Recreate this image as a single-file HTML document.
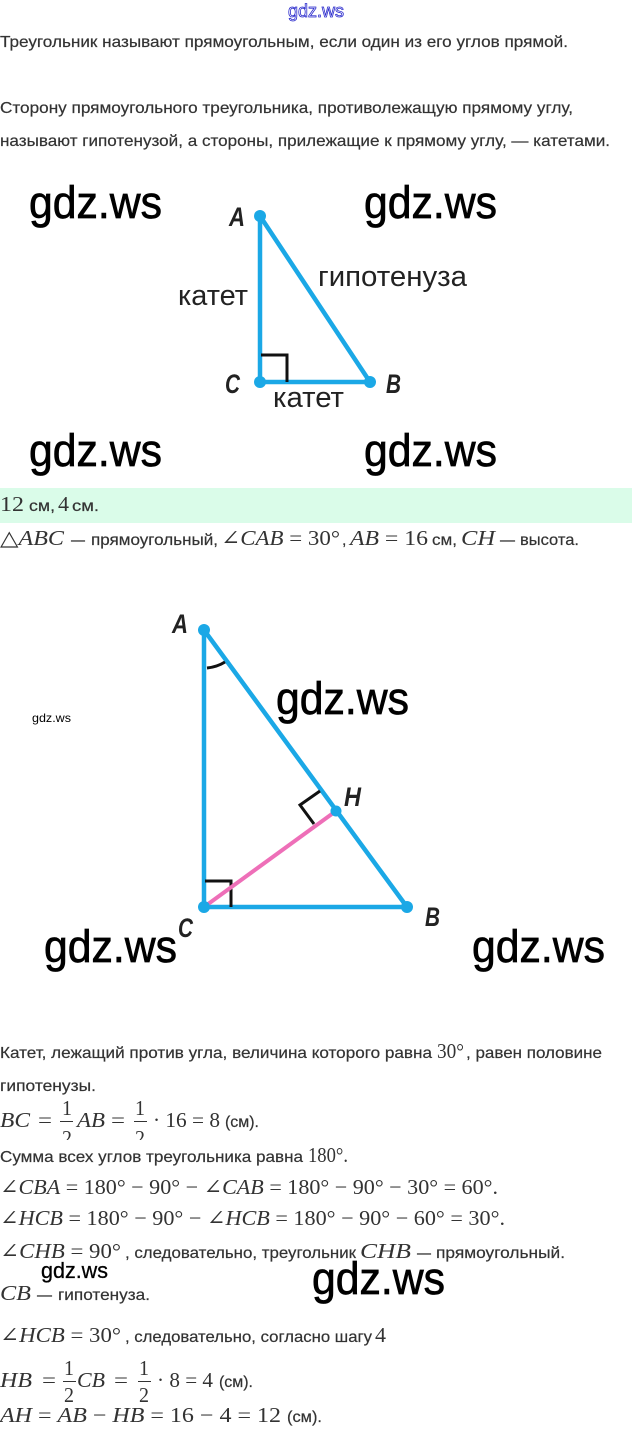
<!DOCTYPE html>
<html lang="ru">
<head>
<meta charset="utf-8">
<title>Прямоугольный треугольник</title>
<style>
html,body{margin:0;padding:0;background:#fff;}
svg{display:block;}
.t{font-family:"Liberation Sans",sans-serif;font-size:16px;fill:#333;stroke:#333;stroke-width:.2px;}
.m{font-family:"Liberation Serif","DejaVu Serif",serif;font-size:21px;fill:#333;}
.i{font-style:italic;}
.w{font-family:"Liberation Sans",sans-serif;font-size:45px;fill:#000;stroke:#000;stroke-width:.7px;}
.l{font-family:"Liberation Sans",sans-serif;font-size:29px;fill:#222;}
.p{font-family:"Liberation Sans",sans-serif;font-size:27px;font-style:italic;font-weight:bold;fill:#222;}
</style>
</head>
<body>
<svg width="632" height="1432" viewBox="0 0 632 1432" xmlns="http://www.w3.org/2000/svg">
<rect width="632" height="1432" fill="#fff"/>
<text x="288" y="17" font-family="Liberation Sans, sans-serif" font-size="18" fill="#fff" stroke="#2a2acc" stroke-width="0.8" textLength="56" lengthAdjust="spacingAndGlyphs">gdz.ws</text>

<text class="t" x="0" y="47" textLength="568" lengthAdjust="spacingAndGlyphs">Треугольник называют прямоугольным, если один из его углов прямой.</text>
<text class="t" x="0" y="113" textLength="573" lengthAdjust="spacingAndGlyphs">Сторону прямоугольного треугольника, противолежащую прямому углу,</text>
<text class="t" x="0" y="146" textLength="610" lengthAdjust="spacingAndGlyphs">называют гипотенузой, а стороны, прилежащие к прямому углу, — катетами.</text>

<!-- Triangle 1 -->
<path d="M260 216V382H370Z" fill="none" stroke="#1ba8e6" stroke-width="4.5" stroke-linejoin="round"/>
<path d="M261 355H287V382" fill="none" stroke="#111" stroke-width="3"/>
<g fill="#1ba8e6"><circle cx="260" cy="216" r="6"/><circle cx="260" cy="382" r="6"/><circle cx="370" cy="382" r="6"/></g>
<text class="p" x="229" y="226" textLength="16" lengthAdjust="spacingAndGlyphs">A</text>
<text class="p" x="225" y="393" textLength="15" lengthAdjust="spacingAndGlyphs">C</text>
<text class="p" x="386" y="393" textLength="15" lengthAdjust="spacingAndGlyphs">B</text>
<text class="l" x="178" y="305" textLength="70" lengthAdjust="spacingAndGlyphs">катет</text>
<text class="l" x="318" y="286" textLength="149" lengthAdjust="spacingAndGlyphs">гипотенуза</text>
<text class="l" x="273" y="407" textLength="71" lengthAdjust="spacingAndGlyphs">катет</text>

<!-- Watermarks -->
<text class="w" x="29" y="218" textLength="133" lengthAdjust="spacingAndGlyphs">gdz.ws</text>
<text class="w" x="364" y="218" textLength="133" lengthAdjust="spacingAndGlyphs">gdz.ws</text>
<text class="w" x="29" y="466" textLength="133" lengthAdjust="spacingAndGlyphs">gdz.ws</text>
<text class="w" x="364" y="466" textLength="133" lengthAdjust="spacingAndGlyphs">gdz.ws</text>

<!-- Answer band -->
<rect x="0" y="488" width="632" height="35" fill="#dafce9"/>
<text class="m" x="0" y="511" textLength="24" lengthAdjust="spacingAndGlyphs">12</text>
<text class="t" x="29" y="511" textLength="26" lengthAdjust="spacingAndGlyphs">см,</text>
<text class="m" x="58" y="511" textLength="11" lengthAdjust="spacingAndGlyphs">4</text>
<text class="t" x="72" y="511" textLength="27" lengthAdjust="spacingAndGlyphs">см.</text>

<text class="m" x="0" y="545" textLength="64" lengthAdjust="spacingAndGlyphs">△<tspan class="i">ABC</tspan></text>
<text class="t" x="71" y="545" textLength="14" lengthAdjust="spacingAndGlyphs">—</text>
<text class="t" x="91" y="545" textLength="127" lengthAdjust="spacingAndGlyphs">прямоугольный,</text>
<text class="m" x="221" y="545" textLength="119" lengthAdjust="spacingAndGlyphs">∠<tspan class="i">CAB</tspan> = 30°</text>
<text class="t" x="342" y="545">,</text>
<text class="m" x="350" y="545" textLength="78" lengthAdjust="spacingAndGlyphs"><tspan class="i">AB</tspan> = 16</text>
<text class="t" x="432" y="545" textLength="25" lengthAdjust="spacingAndGlyphs">см,</text>
<text class="m i" x="461" y="545" textLength="34" lengthAdjust="spacingAndGlyphs">CH</text>
<text class="t" x="500" y="545" textLength="15" lengthAdjust="spacingAndGlyphs">—</text>
<text class="t" x="520" y="545" textLength="59" lengthAdjust="spacingAndGlyphs">высота.</text>

<!-- Triangle 2 -->
<path d="M204 630V907H407Z" fill="none" stroke="#1ba8e6" stroke-width="4.5" stroke-linejoin="round"/>
<path d="M205 881H231V907" fill="none" stroke="#111" stroke-width="3"/>
<path d="M320 791L300 805L314 824" fill="none" stroke="#111" stroke-width="3"/>
<path d="M207 668Q217 667 225 662" fill="none" stroke="#111" stroke-width="3"/>
<path d="M204 907L336 811" fill="none" stroke="#ee6fb8" stroke-width="4"/>
<g fill="#1ba8e6"><circle cx="204" cy="630" r="6"/><circle cx="204" cy="907" r="6"/><circle cx="407" cy="907" r="6"/><circle cx="336" cy="811" r="5.5"/></g>
<text class="p" x="172" y="633" textLength="16" lengthAdjust="spacingAndGlyphs">A</text>
<text class="p" x="344" y="806" textLength="17" lengthAdjust="spacingAndGlyphs">H</text>
<text class="p" x="425" y="926" textLength="15" lengthAdjust="spacingAndGlyphs">B</text>
<text class="p" x="178" y="937" textLength="15" lengthAdjust="spacingAndGlyphs">C</text>

<text class="w" x="276" y="714" textLength="133" lengthAdjust="spacingAndGlyphs">gdz.ws</text>
<text x="32" y="722" font-family="Liberation Sans, sans-serif" font-size="12" fill="#000" textLength="39" lengthAdjust="spacingAndGlyphs">gdz.ws</text>
<text class="w" x="44" y="962" textLength="133" lengthAdjust="spacingAndGlyphs">gdz.ws</text>
<text class="w" x="472" y="962" textLength="133" lengthAdjust="spacingAndGlyphs">gdz.ws</text>

<!-- Solution -->
<text class="t" x="0" y="1058" textLength="432" lengthAdjust="spacingAndGlyphs">Катет, лежащий против угла, величина которого равна</text>
<text class="m" x="437" y="1058" textLength="27" lengthAdjust="spacingAndGlyphs">30°</text>
<text class="t" x="466" y="1058" textLength="136" lengthAdjust="spacingAndGlyphs">, равен половине</text>
<text class="t" x="0" y="1091" textLength="96" lengthAdjust="spacingAndGlyphs">гипотенузы.</text>

<text class="m i" x="0" y="1127" textLength="30" lengthAdjust="spacingAndGlyphs">BC</text>
<text class="m" x="38" y="1127" textLength="14" lengthAdjust="spacingAndGlyphs">=</text>
<text class="m" x="62" y="1115" textLength="10" lengthAdjust="spacingAndGlyphs">1</text>
<rect x="60" y="1121" width="13" height="1" fill="#333"/>
<text class="m" x="62" y="1145" textLength="10" lengthAdjust="spacingAndGlyphs">2</text>
<text class="m i" x="77" y="1127" textLength="28" lengthAdjust="spacingAndGlyphs">AB</text>
<text class="m" x="111" y="1127" textLength="14" lengthAdjust="spacingAndGlyphs">=</text>
<text class="m" x="135" y="1115" textLength="10" lengthAdjust="spacingAndGlyphs">1</text>
<rect x="134" y="1121" width="13" height="1" fill="#333"/>
<text class="m" x="135" y="1145" textLength="10" lengthAdjust="spacingAndGlyphs">2</text>
<rect x="55" y="1140" width="100" height="8" fill="#fff"/>
<text class="m" x="153" y="1127" textLength="67" lengthAdjust="spacingAndGlyphs">· 16 = 8</text>
<text class="t" x="225" y="1127" textLength="34" lengthAdjust="spacingAndGlyphs">(см).</text>

<text class="t" x="0" y="1162" textLength="303" lengthAdjust="spacingAndGlyphs">Сумма всех углов треугольника равна</text>
<text class="m" x="308" y="1162" textLength="40" lengthAdjust="spacingAndGlyphs">180°.</text>

<text class="m" x="0" y="1194" textLength="498" lengthAdjust="spacingAndGlyphs">∠<tspan class="i">CBA</tspan> = 180° − 90° − ∠<tspan class="i">CAB</tspan> = 180° − 90° − 30° = 60°.</text>
<text class="m" x="0" y="1225" textLength="505" lengthAdjust="spacingAndGlyphs">∠<tspan class="i">HCB</tspan> = 180° − 90° − ∠<tspan class="i">HCB</tspan> = 180° − 90° − 60° = 30°.</text>

<text class="m" x="0" y="1258" textLength="121" lengthAdjust="spacingAndGlyphs">∠<tspan class="i">CHB</tspan> = 90°</text>
<text class="t" x="125" y="1258" textLength="231" lengthAdjust="spacingAndGlyphs">, следовательно, треугольник</text>
<text class="m i" x="360" y="1258" textLength="51" lengthAdjust="spacingAndGlyphs">CHB</text>
<text class="t" x="417" y="1258" textLength="14" lengthAdjust="spacingAndGlyphs">—</text>
<text class="t" x="436" y="1258" textLength="129" lengthAdjust="spacingAndGlyphs">прямоугольный.</text>

<text x="41" y="1278" font-family="Liberation Sans, sans-serif" font-size="22" fill="#000" stroke="#000" stroke-width=".3" textLength="67" lengthAdjust="spacingAndGlyphs">gdz.ws</text>

<text class="m i" x="0" y="1300" textLength="31" lengthAdjust="spacingAndGlyphs">CB</text>
<text class="t" x="37" y="1300" textLength="15" lengthAdjust="spacingAndGlyphs">—</text>
<text class="t" x="58" y="1300" textLength="92" lengthAdjust="spacingAndGlyphs">гипотенуза.</text>
<text class="w" x="312" y="1294" textLength="133" lengthAdjust="spacingAndGlyphs">gdz.ws</text>

<text class="m" x="0" y="1342" textLength="121" lengthAdjust="spacingAndGlyphs">∠<tspan class="i">HCB</tspan> = 30°</text>
<text class="t" x="125" y="1342" textLength="247" lengthAdjust="spacingAndGlyphs">, следовательно, согласно шагу</text>
<text class="m" x="375" y="1342" textLength="11" lengthAdjust="spacingAndGlyphs">4</text>

<text class="m i" x="0" y="1387" textLength="32" lengthAdjust="spacingAndGlyphs">HB</text>
<text class="m" x="42" y="1387" textLength="14" lengthAdjust="spacingAndGlyphs">=</text>
<text class="m" x="64" y="1375" textLength="10" lengthAdjust="spacingAndGlyphs">1</text>
<rect x="63" y="1381" width="13" height="1" fill="#333"/>
<text class="m" x="64" y="1402" textLength="10" lengthAdjust="spacingAndGlyphs">2</text>
<text class="m i" x="77" y="1387" textLength="28" lengthAdjust="spacingAndGlyphs">CB</text>
<text class="m" x="114" y="1387" textLength="14" lengthAdjust="spacingAndGlyphs">=</text>
<text class="m" x="139" y="1375" textLength="10" lengthAdjust="spacingAndGlyphs">1</text>
<rect x="138" y="1381" width="13" height="1" fill="#333"/>
<text class="m" x="139" y="1402" textLength="10" lengthAdjust="spacingAndGlyphs">2</text>
<text class="m" x="157" y="1387" textLength="56" lengthAdjust="spacingAndGlyphs">· 8 = 4</text>
<text class="t" x="219" y="1387" textLength="34" lengthAdjust="spacingAndGlyphs">(см).</text>

<text class="m" x="0" y="1422" textLength="281" lengthAdjust="spacingAndGlyphs"><tspan class="i">AH</tspan> = <tspan class="i">AB</tspan> − <tspan class="i">HB</tspan> = 16 − 4 = 12</text>
<text class="t" x="287" y="1422" textLength="35" lengthAdjust="spacingAndGlyphs">(см).</text>
</svg>
</body>
</html>
